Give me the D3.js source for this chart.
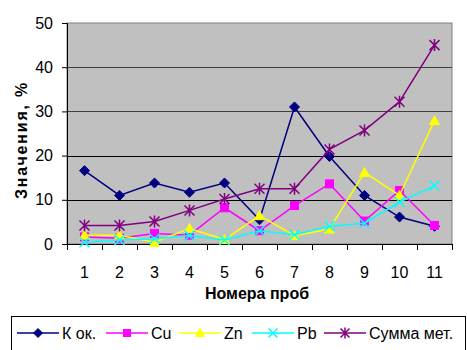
<!DOCTYPE html>
<html>
<head>
<meta charset="utf-8">
<script src="https://cdn.jsdelivr.net/npm/d3@7"></script>
<style>
  html, body { margin: 0; padding: 0; background: #fff; }
  svg { display: block; font-family: "Liberation Sans", Arial, sans-serif; }
</style>
</head>
<body>
<svg id="chart" width="467" height="350"></svg>
<script>
const categories = ["1","2","3","4","5","6","7","8","9","10","11"];
const kOk   = [16.6, 11.0, 13.8, 11.7, 13.8, 5.5, 31.0, 19.8, 11.0, 6.1, 4.0];
const cu    = [1.6, 1.3, 2.4, 2.0, 8.2, 3.0, 8.7, 13.6, 5.2, 12.1, 4.2];
const zn    = [2.0, 2.0, 0.4, 3.5, 1.0, 6.4, 1.9, 3.4, 16.2, 11.0, 27.9];
const pb    = [0.4, 0.9, 1.2, 1.9, 0.9, 3.0, 2.1, 4.0, 4.7, 9.5, 13.2];
const summa = [4.2, 4.2, 5.1, 7.6, 10.2, 12.5, 12.5, 21.4, 25.7, 32.2, 45.0];
const yTicks = [0, 10, 20, 30, 40, 50];
const seriesNames = ["К ок.", "Cu", "Zn", "Pb", "Сумма мет."];

const series = [
  {name: seriesNames[0], values: kOk,   color: "#000080", marker: "diamond"},
  {name: seriesNames[1], values: cu,    color: "#FF00FF", marker: "square"},
  {name: seriesNames[2], values: zn,    color: "#FFFF00", marker: "triangle"},
  {name: seriesNames[3], values: pb,    color: "#00FFFF", marker: "x"},
  {name: seriesNames[4], values: summa, color: "#800080", marker: "star"}
];

const svg = d3.select("#chart");
const plot = {left: 67, right: 452, top: 23, bottom: 244};

const x = d3.scaleBand().domain(categories).range([plot.left, plot.right]).padding(0);
const y = d3.scaleLinear().domain([0, 50]).range([plot.bottom, plot.top]);

// plot background
svg.append("rect")
  .attr("x", plot.left).attr("y", plot.top)
  .attr("width", plot.right - plot.left).attr("height", plot.bottom - plot.top)
  .attr("fill", "#C0C0C0").attr("stroke", "#808080").attr("stroke-width", 1);

// gridlines
svg.append("g").selectAll("line").data(yTicks.filter(d => d > 0 && d < 50)).join("line")
  .attr("x1", plot.left).attr("x2", plot.right)
  .attr("y1", d => Math.round(y(d)) + 0.5).attr("y2", d => Math.round(y(d)) + 0.5)
  .attr("stroke", d => d >= 30 ? "#404040" : "#000").attr("stroke-width", 1);

// y axis
const yAxis = svg.append("g").attr("transform", `translate(${plot.left},0)`)
  .call(d3.axisLeft(y).tickValues(yTicks).tickSize(5).tickPadding(9));
yAxis.select(".domain").attr("stroke", "#000");
yAxis.selectAll(".tick line").attr("stroke", "#000");
yAxis.selectAll("text").attr("font-size", 16).attr("fill", "#000")
  .attr("font-family", "Liberation Sans, Arial, sans-serif");

// x axis (ticks at band boundaries)
const xAxisG = svg.append("g").attr("transform", `translate(0,${plot.bottom})`);
xAxisG.append("line").attr("x1", plot.left).attr("x2", plot.right)
  .attr("y1", 0.5).attr("y2", 0.5).attr("stroke", "#000");
const boundaries = categories.map(c => x(c)).concat([x(categories[categories.length-1]) + x.bandwidth()]);
xAxisG.selectAll("line.tk").data(boundaries).join("line").attr("class","tk")
  .attr("x1", d => Math.round(d) + 0.5).attr("x2", d => Math.round(d) + 0.5)
  .attr("y1", 0).attr("y2", 6).attr("stroke", "#000");
xAxisG.selectAll("text").data(categories).join("text")
  .attr("x", d => x(d) + x.bandwidth()/2)
  .attr("y", 34)
  .attr("text-anchor", "middle")
  .attr("font-size", 16).attr("fill", "#000")
  .text(d => d);

// axis titles
svg.append("text")
  .attr("x", 257).attr("y", 299)
  .attr("text-anchor", "middle")
  .attr("font-size", 16).attr("font-weight", "bold")
  .text("Номера проб");

svg.append("text")
  .attr("transform", "translate(27,140) rotate(-90)")
  .attr("text-anchor", "middle")
  .attr("font-size", 16).attr("font-weight", "bold")
  .attr("letter-spacing", 1.8)
  .text("Значения, %");

// marker drawing
function drawMarker(g, type, color, cx, cy, r) {
  r = r || 5;
  if (type === "diamond") {
    g.append("path").attr("d", `M${cx},${cy-r}L${cx+r},${cy}L${cx},${cy+r}L${cx-r},${cy}Z`)
      .attr("fill", color).attr("stroke", color);
  } else if (type === "square") {
    g.append("rect").attr("x", cx - r + 1).attr("y", cy - r + 1).attr("width", 2*r - 2).attr("height", 2*r - 2)
      .attr("fill", color).attr("stroke", color);
  } else if (type === "triangle") {
    g.append("path").attr("d", `M${cx},${cy-r}L${cx+r},${cy+r-1}L${cx-r},${cy+r-1}Z`)
      .attr("fill", color).attr("stroke", color);
  } else if (type === "x") {
    g.append("path").attr("d", `M${cx-r},${cy-r}L${cx+r},${cy+r}M${cx-r},${cy+r}L${cx+r},${cy-r}`)
      .attr("stroke", color).attr("stroke-width", 1.5).attr("fill", "none");
  } else if (type === "star") {
    g.append("path").attr("d", `M${cx-r},${cy-r}L${cx+r},${cy+r}M${cx-r},${cy+r}L${cx+r},${cy-r}M${cx},${cy-r-1}L${cx},${cy+r+1}`)
      .attr("stroke", color).attr("stroke-width", 1.5).attr("fill", "none");
  }
}

// series lines & markers
const line = d3.line().x((d, i) => x(categories[i]) + x.bandwidth()/2).y(d => y(d));
const seriesG = svg.append("g");
series.forEach(s => {
  const g = seriesG.append("g");
  g.append("path").attr("d", line(s.values)).attr("fill", "none")
    .attr("stroke", s.color).attr("stroke-width", 1.5);
  s.values.forEach((v, i) => drawMarker(g, s.marker, s.color, x(categories[i]) + x.bandwidth()/2, y(v), 5));
});

// legend
const legend = svg.append("g");
legend.append("rect").attr("x", 11.5).attr("y", 316.5).attr("width", 454).attr("height", 40)
  .attr("fill", "#fff").attr("stroke", "#000").attr("stroke-width", 1);
const legendX = [17, 106, 179, 252, 324];
series.forEach((s, i) => {
  const lx = legendX[i];
  const ly = 333;
  legend.append("line").attr("x1", lx).attr("x2", lx + 42).attr("y1", ly).attr("y2", ly)
    .attr("stroke", s.color).attr("stroke-width", 1.5);
  drawMarker(legend, s.marker, s.color, lx + 21, ly, 4.5);
  legend.append("text").attr("x", lx + 45).attr("y", ly + 6)
    .attr("font-size", 16).attr("fill", "#000").text(s.name);
});
</script>
</body>
</html>
